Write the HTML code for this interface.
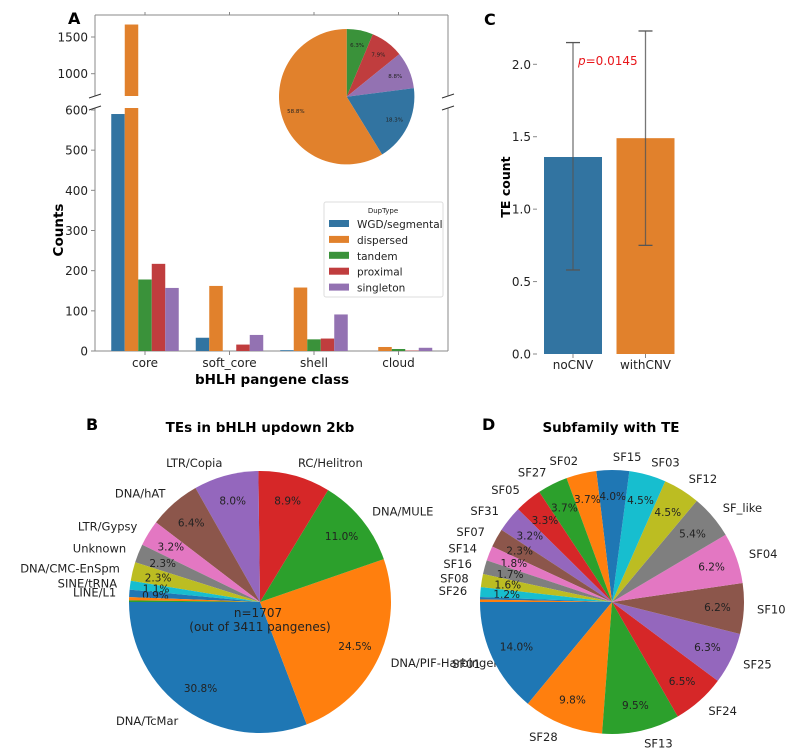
<!DOCTYPE html>
<html><head><meta charset="utf-8"><style>
body{margin:0;background:#fff}
svg{display:block;font-family:"DejaVu Sans","Liberation Sans",sans-serif}
</style></head><body>
<svg id="fig" width="802" height="755" viewBox="0 0 802 755" xmlns="http://www.w3.org/2000/svg"></svg>
<script>
// ---------- Panel A data ----------
const aCategories = ["core","soft_core","shell","cloud"];
const aSeriesNames = ["WGD/segmental","dispersed","tandem","proximal","singleton"];
const aWGD = [590, 33, 2, 0];
const aDispersed = [1670, 162, 158, 10];
const aTandem = [178, 0, 29, 5];
const aProximal = [217, 16, 31, 1];
const aSingleton = [157, 40, 91, 8];
const aLowerTicks = [0,100,200,300,400,500,600];
const aUpperTicks = [1000,1500];
const aPieLabels = ["tandem","proximal","singleton","WGD/segmental","dispersed"];
const aPieValues = [6.3, 7.9, 8.8, 18.3, 58.8];
// ---------- Panel C data ----------
const cCategories = ["noCNV","withCNV"];
const cMeans = [1.36, 1.49];
const cErrLow = [0.58, 0.75];
const cErrHigh = [2.15, 2.23];
const cTicks = [0.0,0.5,1.0,1.5,2.0];
// ---------- Panel B data ----------
const bLabels = ["DNA/TcMar","DNA/PIF-Harbinger","DNA/MULE","RC/Helitron","LTR/Copia","DNA/hAT","LTR/Gypsy","Unknown","DNA/CMC-EnSpm","SINE/tRNA","LINE/L1","",""];
const bValues = [30.8,24.5,11.0,8.9,8.0,6.4,3.2,2.3,2.3,1.1,0.9,0.4,0.2];
// ---------- Panel D data ----------
const dLabels = ["SF01","SF28","SF13","SF24","SF25","SF10","SF04","SF_like","SF12","SF03","SF15","SF02","SF27","SF05","SF31","SF07","SF14","SF16","SF08","SF26","",""];
const dValues = [14.0,9.8,9.5,6.5,6.3,6.2,6.2,5.4,4.5,4.5,4.0,3.7,3.7,3.3,3.2,2.3,1.8,1.7,1.6,1.2,0.3,0.3];

const NS="http://www.w3.org/2000/svg";
const svg=document.getElementById('fig');
function el(tag,attrs,parent,text){const e=document.createElementNS(NS,tag);for(const k in attrs)e.setAttribute(k,attrs[k]);if(text!==undefined)e.textContent=text;(parent||svg).appendChild(e);return e;}
const muted=["#3274a1","#e1812c","#3a923a","#c03d3e","#9372b2"];
const tab10=["#1f77b4","#ff7f0e","#2ca02c","#d62728","#9467bd","#8c564b","#e377c2","#7f7f7f","#bcbd22","#17becf"];
const axisCol="#888";

// ================= Panel A =================
const gA=el('g',{});


const ax0=95, ax1=448;
const lowTop=108, lowBot=351;
function yLow(v){return 351 - v*(351-110)/600;}
function yUp(v){return 73.7 - (v-1000)*(73.7-37)/500;}
const upTop=15, upBot=96;
const catStep=84.5, cat0=145, bw=13.5;
function xCat(i){return cat0+i*catStep;}
el('line',{x1:ax0,y1:upTop,x2:ax1,y2:upTop,stroke:axisCol},gA);
el('line',{x1:ax0,y1:upTop,x2:ax0,y2:upBot,stroke:axisCol},gA);
el('line',{x1:ax1,y1:upTop,x2:ax1,y2:upBot,stroke:axisCol},gA);
el('line',{x1:ax0,y1:lowTop,x2:ax0,y2:lowBot,stroke:axisCol},gA);
el('line',{x1:ax1,y1:lowTop,x2:ax1,y2:lowBot,stroke:axisCol},gA);
el('line',{x1:ax0,y1:lowBot,x2:ax1,y2:lowBot,stroke:axisCol},gA);
[[ax0,upBot],[ax0,lowTop],[ax1,upBot],[ax1,lowTop]].forEach(p=>el('line',{x1:p[0]-6,y1:p[1]+2,x2:p[0]+6,y2:p[1]-2,stroke:"#333"},gA));
const defs=el('defs',{});
const c1=el('clipPath',{id:'clipUp'},defs);el('rect',{x:ax0,y:upTop,width:ax1-ax0,height:upBot-upTop},c1);
const c2=el('clipPath',{id:'clipLow'},defs);el('rect',{x:ax0,y:lowTop,width:ax1-ax0,height:lowBot-lowTop},c2);
const gUp=el('g',{'clip-path':'url(#clipUp)'},gA);
const gLow=el('g',{'clip-path':'url(#clipLow)'},gA);
const series=[aWGD,aDispersed,aTandem,aProximal,aSingleton];
series.forEach((s,si)=>{
  s.forEach((v,ci)=>{
    const x=xCat(ci)-2.5*bw+si*bw;
    const r=el('rect',{x:x,y:yLow(v),width:bw,height:Math.max(0,lowBot-yLow(v)),fill:muted[si]},gLow);
    
    
    if(v>700){
      const r2=el('rect',{x:x,y:yUp(v),width:bw,height:upBot+5-yUp(v),fill:muted[si]},gUp);
      
      
    }
  });
});
aLowerTicks.forEach(t=>{const y=yLow(t);el('line',{x1:ax0-4,y1:y,x2:ax0,y2:y,stroke:axisCol},gA);el('text',{x:ax0-7,y:y+4.5,'font-size':12,'text-anchor':'end',fill:'#222'},gA,String(t));});
aUpperTicks.forEach(t=>{const y=yUp(t);el('line',{x1:ax0-4,y1:y,x2:ax0,y2:y,stroke:axisCol},gA);el('text',{x:ax0-7,y:y+4.5,'font-size':12,'text-anchor':'end',fill:'#222'},gA,String(t));});
aCategories.forEach((c,i)=>{const x=xCat(i);el('line',{x1:x,y1:lowBot,x2:x,y2:lowBot+4,stroke:axisCol},gA);el('line',{x1:x,y1:upTop-3,x2:x,y2:upTop,stroke:axisCol},gA);el('text',{x:x,y:367,'font-size':12,'text-anchor':'middle',fill:'#222'},gA,c);});
el('text',{x:272,y:384,'font-size':13.5,'font-weight':'bold','text-anchor':'middle'},gA,'bHLH pangene class');
el('text',{x:0,y:0,'font-size':13.5,'font-weight':'bold','text-anchor':'middle',transform:'translate(63,230) rotate(-90)'},gA,'Counts');
el('text',{x:68,y:24,'font-size':16,'font-weight':'bold'},gA,'A');
const lg=el('g',{},gA);


el('rect',{x:324,y:202,width:119,height:95,fill:'#fff',stroke:'#ddd',rx:2},lg);
el('text',{x:383,y:213,'font-size':7,'text-anchor':'middle',fill:'#222'},lg,'DupType');
aSeriesNames.forEach((n,i)=>{const y=224+i*15.9;el('rect',{x:329,y:y-4,width:20,height:7,fill:muted[i]},lg);el('text',{x:357,y:y+4,'font-size':10.5,fill:'#222'},lg,n);});
function pie(g,cx,cy,r,vals,cols,startDeg,clockwise,labels,pctDist,pctSize,labSize,nameBase){
  const tot=vals.reduce((a,b)=>a+b,0);let a=startDeg;
  vals.forEach((v,i)=>{
    const sweep=v/tot*360*(clockwise?-1:1);
    const a2=a+sweep;
    const rad=d=>d*Math.PI/180;
    const x1=cx+r*Math.cos(rad(a)),y1=cy-r*Math.sin(rad(a));
    const x2=cx+r*Math.cos(rad(a2)),y2=cy-r*Math.sin(rad(a2));
    const large=Math.abs(sweep)>180?1:0;
    const sw=clockwise?1:0;
    const p=el('path',{d:`M${cx},${cy} L${x1},${y1} A${r},${r} 0 ${large} ${sw} ${x2},${y2} Z`,fill:cols[i%cols.length]},g);
    
    
    const mid=rad((a+a2)/2);
    if(labels&&labels[i]){
      const lx=cx+1.1*r*Math.cos(mid),ly=cy-1.1*r*Math.sin(mid);
      el('text',{x:lx,y:ly+labSize*0.36,'font-size':labSize,'text-anchor':Math.cos(mid)>=0?'start':'end',fill:'#222'},g,labels[i]);
    }
    if(v>=0.8){
      const px=cx+pctDist*r*Math.cos(mid),py=cy-pctDist*r*Math.sin(mid);
      el('text',{x:px,y:py+pctSize*0.36,'font-size':pctSize,'text-anchor':'middle',fill:'#222'},g,v.toFixed(1)+'%');
    }
    a=a2;
  });
}
const gPA=el('g',{},gA);


pie(gPA,346.7,96.7,67.7,aPieValues,[muted[2],muted[3],muted[4],muted[0],muted[1]],90,true,null,0.78,5.5,0,'dup-pie');

// ================= Panel C =================
const gC=el('g',{});


function yC(v){return 354 - v*(354-64.3)/2.0;}
const cX=[573,645.5], cW=58, cCols=["#3274a1","#e1812c"];
cTicks.forEach(t=>{const y=yC(t);el('line',{x1:533,y1:y,x2:537,y2:y,stroke:axisCol},gC);el('text',{x:531,y:y+4.5,'font-size':12,'text-anchor':'end',fill:'#222'},gC,t.toFixed(1));});
cCategories.forEach((c,i)=>{
  const r=el('rect',{x:cX[i]-cW/2,y:yC(cMeans[i]),width:cW,height:354-yC(cMeans[i]),fill:cCols[i]},gC);
  
  
  el('line',{x1:cX[i],y1:yC(cErrLow[i]),x2:cX[i],y2:yC(cErrHigh[i]),stroke:'#555','stroke-width':1.3,opacity:0.8},gC);
  [cErrLow[i],cErrHigh[i]].forEach(v=>el('line',{x1:cX[i]-7,y1:yC(v),x2:cX[i]+7,y2:yC(v),stroke:'#555','stroke-width':1.3},gC));
  el('line',{x1:cX[i],y1:354,x2:cX[i],y2:358,stroke:axisCol},gC);
  el('text',{x:cX[i],y:369,'font-size':12,'text-anchor':'middle',fill:'#222'},gC,c);
});
const pt=el('text',{x:578,y:65,'font-size':12,fill:'#e8161b'},gC);
el('tspan',{'font-style':'italic'},pt,'p');el('tspan',{},pt,'=0.0145');
el('text',{x:0,y:0,'font-size':12.5,'font-weight':'bold','text-anchor':'middle',transform:'translate(510,187) rotate(-90)'},gC,'TE count');
el('text',{x:484,y:25,'font-size':16,'font-weight':'bold'},gC,'C');

// ================= Panel B =================
const gB=el('g',{});


pie(gB,260,602,131,bValues,tab10,180,false,bLabels,0.8,10.5,11.5,'te-pie');
el('text',{x:258,y:617,'font-size':12,'text-anchor':'middle',fill:'#222'},gB,'n=1707');
el('text',{x:260,y:631,'font-size':12,'text-anchor':'middle',fill:'#222'},gB,'(out of 3411 pangenes)');
el('text',{x:260,y:432,'font-size':13.5,'font-weight':'bold','text-anchor':'middle'},gB,'TEs in bHLH updown 2kb');
el('text',{x:86,y:430,'font-size':16,'font-weight':'bold'},gB,'B');

// ================= Panel D =================
const gD=el('g',{});


pie(gD,612,602,132,dValues,tab10,180,false,dLabels,0.8,10.5,11.5,'subfamily-pie');
el('text',{x:611,y:432,'font-size':13.5,'font-weight':'bold','text-anchor':'middle'},gD,'Subfamily with TE');
el('text',{x:482,y:430,'font-size':16,'font-weight':'bold'},gD,'D');
</script>
</body></html>
